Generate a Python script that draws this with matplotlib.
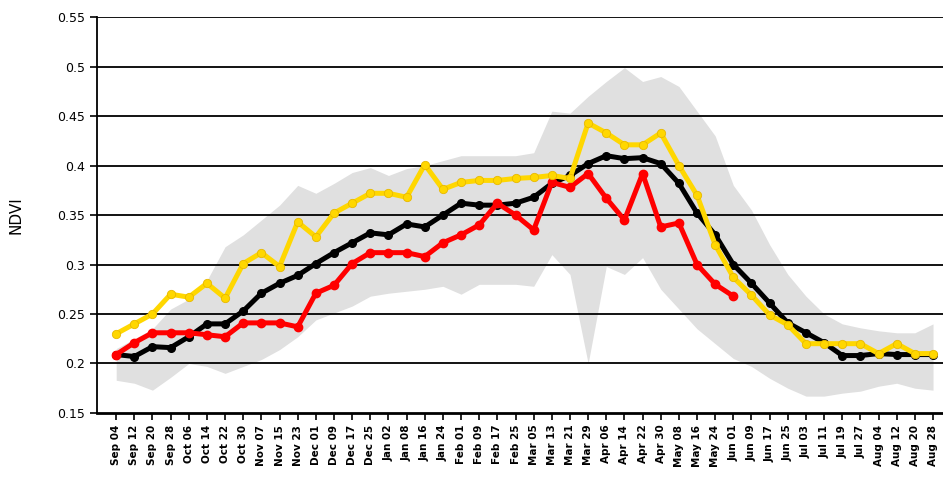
import numpy as np
import matplotlib.pyplot as plt

dates = ["Sep 04", "Sep 12", "Sep 20", "Sep 28", "Oct 06", "Oct 14", "Oct 22", "Oct 30",
         "Nov 07", "Nov 15", "Nov 23", "Dec 01", "Dec 09", "Dec 17", "Dec 25", "Jan 02",
         "Jan 08", "Jan 16", "Jan 24", "Feb 01", "Feb 09", "Feb 17", "Feb 25", "Mar 05",
         "Mar 13", "Mar 21", "Mar 29", "Apr 06", "Apr 14", "Apr 22", "Apr 30", "May 08",
         "May 16", "May 24", "Jun 01", "Jun 09", "Jun 17", "Jun 25", "Jul 03", "Jul 11",
         "Jul 19", "Jul 27", "Aug 04", "Aug 12", "Aug 20", "Aug 28"]

band_upper = [0.215, 0.225, 0.235, 0.255, 0.265, 0.284, 0.318, 0.330, 0.345, 0.360,
              0.380, 0.372, 0.382, 0.393, 0.398, 0.390, 0.397, 0.400, 0.405, 0.410,
              0.410, 0.410, 0.410, 0.413, 0.455, 0.453, 0.470, 0.485, 0.499, 0.485,
              0.490, 0.480, 0.455, 0.430, 0.380, 0.355, 0.320, 0.290, 0.268, 0.250,
              0.240, 0.236, 0.233, 0.231, 0.231, 0.240]
band_lower = [0.183, 0.180, 0.173, 0.186, 0.200, 0.197, 0.190, 0.197, 0.204, 0.214,
              0.227, 0.244, 0.251, 0.258, 0.268, 0.271, 0.273, 0.275, 0.278, 0.270,
              0.280, 0.280, 0.280, 0.278, 0.310, 0.290, 0.200, 0.298, 0.290, 0.307,
              0.275, 0.255, 0.235, 0.220, 0.205, 0.197, 0.185, 0.175, 0.167, 0.167,
              0.170, 0.172, 0.177, 0.180, 0.175, 0.173]

mean_ndvi = [0.209, 0.207, 0.217, 0.216, 0.227, 0.240, 0.240, 0.253, 0.271, 0.281,
             0.289, 0.301, 0.312, 0.322, 0.332, 0.330, 0.341, 0.338, 0.350, 0.362,
             0.360, 0.360, 0.362, 0.368, 0.382, 0.390, 0.402, 0.410, 0.407, 0.408,
             0.402, 0.382, 0.352, 0.330, 0.300, 0.281, 0.261, 0.241, 0.231, 0.221,
             0.208, 0.208, 0.210, 0.209, 0.209, 0.209]

red_ndvi = [0.209, 0.221, 0.231, 0.231, 0.231, 0.229, 0.227, 0.241, 0.241, 0.241,
            0.237, 0.271, 0.279, 0.301, 0.312, 0.312, 0.312, 0.308, 0.322, 0.330,
            0.340, 0.362, 0.350, 0.335, 0.383, 0.378, 0.392, 0.367, 0.345, 0.392,
            0.338, 0.342, 0.300, 0.280, 0.268]

yellow_ndvi = [0.230, 0.240, 0.250, 0.270, 0.267, 0.281, 0.266, 0.301, 0.312, 0.298,
               0.343, 0.328, 0.352, 0.362, 0.372, 0.372, 0.368, 0.401, 0.376, 0.383,
               0.385, 0.385, 0.387, 0.388, 0.390, 0.387, 0.443, 0.433, 0.421, 0.421,
               0.433, 0.400, 0.370, 0.320, 0.287, 0.269, 0.249, 0.239, 0.220, 0.220,
               0.220, 0.220, 0.210, 0.220, 0.210, 0.210]

x = np.arange(len(dates))

fig = plt.figure(figsize=(9.43, 4.91), dpi=100)
ax = fig.add_axes([0.103, 0.159, 0.897, 0.806])

ax.fill_between(x, band_lower, band_upper, color='#e0e0e0', linewidth=0, zorder=0)
for v in np.arange(0.2, 0.551, 0.05):
    ax.axhline(v, color='black', linewidth=1.3, zorder=1)

ax.plot(x, mean_ndvi, color='black', linewidth=3.6, marker='o', markersize=5.5, zorder=3)
ax.plot(x[:len(red_ndvi)], red_ndvi, color='#ff0000', linewidth=3.6, marker='o',
        markersize=6, zorder=4)
ax.plot(x, yellow_ndvi, color='#ffd700', linewidth=3.6, marker='o', markersize=6,
        markeredgecolor='#e8b800', markeredgewidth=0.6, zorder=5)

ax.set_xlim(-1.05, 45.55)
ax.set_ylim(0.15, 0.55)
ax.set_yticks(np.arange(0.15, 0.551, 0.05))
ax.set_yticklabels(['0.15', '0.2', '0.25', '0.3', '0.35', '0.4', '0.45', '0.5', '0.55'],
                   fontsize=9)
ax.set_xticks(x)
ax.set_xticklabels(dates, rotation=90, fontsize=7.5, fontweight='bold')
ax.tick_params(axis='both', direction='out', length=5, width=1.2, color='black')
ax.set_ylabel('NDVI', fontsize=11, labelpad=24)

for s in ['top', 'right']:
    ax.spines[s].set_visible(False)
ax.spines['left'].set_linewidth(1.3)
ax.spines['bottom'].set_linewidth(2)

fig.savefig('out.png', dpi=100)
